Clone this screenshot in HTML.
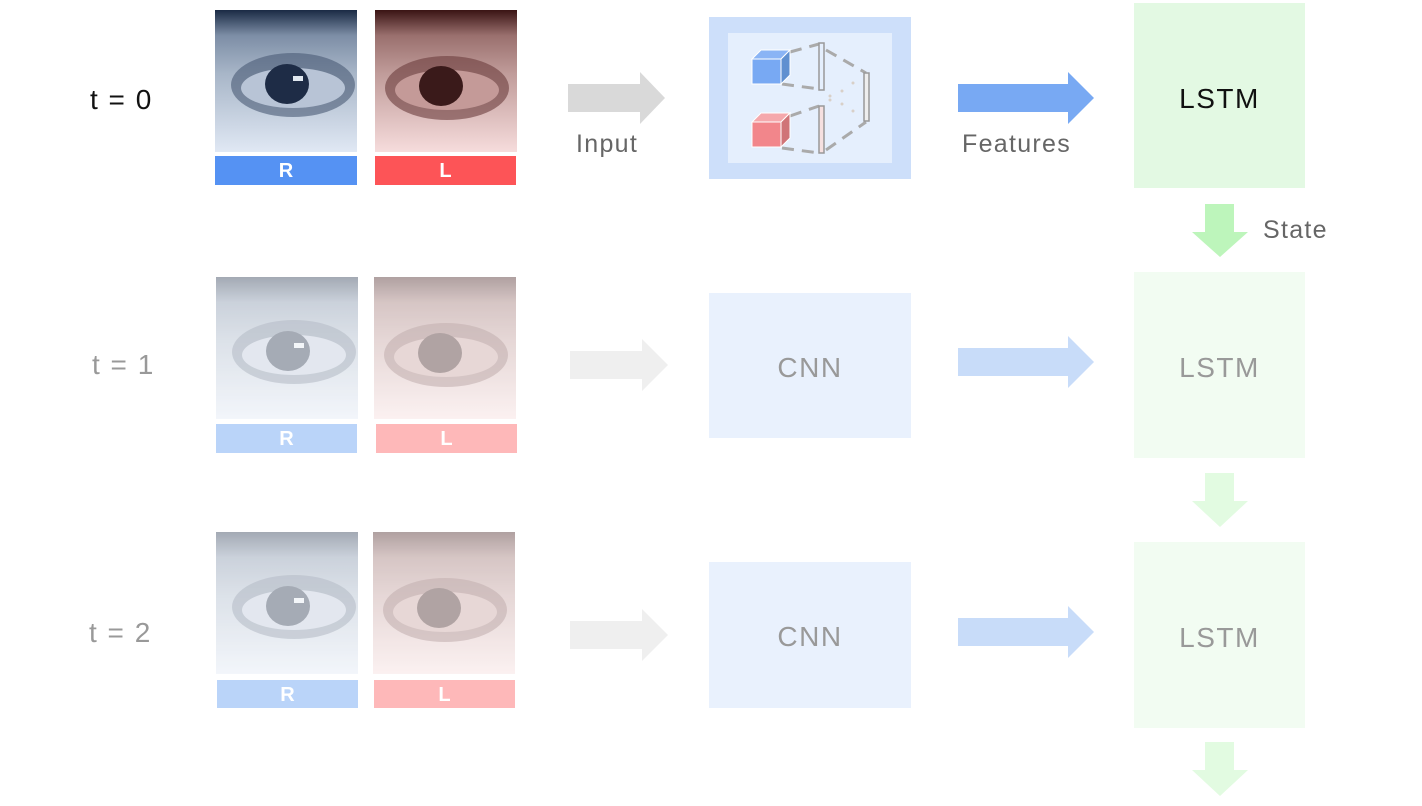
<!DOCTYPE html>
<html><head><style>
body{margin:0;width:1422px;height:806px;background:#fff;position:relative;overflow:hidden;font-family:"Liberation Sans",sans-serif}
.a{position:absolute}
.t{font-size:28px;color:#111;letter-spacing:1.5px}
.lb{font-size:25px;color:#666;letter-spacing:1.3px}
.bar{position:absolute;color:#fff;font-weight:bold;font-size:20px;text-align:center;line-height:31px}
.lstm{position:absolute;font-size:28px;text-align:center;letter-spacing:1.5px}
</style></head><body>
<svg class="a" style="left:0;top:0" width="1422" height="806">
<defs>
<linearGradient id="gb" x1="0" y1="0" x2="0" y2="1"><stop offset="0" stop-color="#1a2a44"/><stop offset=".18" stop-color="#7d8ea6"/><stop offset=".45" stop-color="#a8b6c8"/><stop offset="1" stop-color="#e0e8f4"/></linearGradient>
<linearGradient id="gr" x1="0" y1="0" x2="0" y2="1"><stop offset="0" stop-color="#3a1414"/><stop offset=".18" stop-color="#9a706e"/><stop offset=".45" stop-color="#c09c9a"/><stop offset="1" stop-color="#f6dcdc"/></linearGradient>
<g id="eyeB"><rect width="142" height="142" fill="url(#gb)"/><ellipse cx="78" cy="75" rx="62" ry="32" fill="#4a5a74" opacity=".6"/><ellipse cx="78" cy="78" rx="52" ry="20" fill="#b8c4d6"/><ellipse cx="72" cy="74" rx="22" ry="20" fill="#1e2c46"/><rect x="78" y="66" width="10" height="5" fill="#e0e8f0"/></g>
<g id="eyeR"><rect width="142" height="142" fill="url(#gr)"/><ellipse cx="72" cy="78" rx="62" ry="32" fill="#6a3c3c" opacity=".6"/><ellipse cx="72" cy="80" rx="52" ry="20" fill="#c49a98"/><ellipse cx="66" cy="76" rx="22" ry="20" fill="#3a1a1a"/></g>
</defs>
<use href="#eyeB" x="215" y="10"/><use href="#eyeR" x="375" y="10"/>
<g opacity=".5"><use href="#eyeB" x="216" y="277"/><use href="#eyeR" x="374" y="277"/><use href="#eyeB" x="216" y="532"/><use href="#eyeR" x="373" y="532"/></g>
<rect x="0" y="270" width="600" height="420" fill="#fff" opacity=".2"/>
<polygon points="568,84 640,84 640,72 665,98 640,124 640,112 568,112" fill="#d9d9d9"/>
<polygon points="570,351 642,351 642,339 668,365 642,391 642,379 570,379" fill="#efefef"/>
<polygon points="570,621 642,621 642,609 668,635 642,661 642,649 570,649" fill="#efefef"/>
<polygon points="958,84 1068,84 1068,72 1094,98 1068,124 1068,112 958,112" fill="#78a9f3"/>
<polygon points="958,348 1068,348 1068,336 1094,362 1068,388 1068,376 958,376" fill="#c8dcf9"/>
<polygon points="958,618 1068,618 1068,606 1094,632 1068,658 1068,646 958,646" fill="#c8dcf9"/>
<polygon points="1205,204 1234,204 1234,232 1248,232 1220,257 1192,232 1205,232" fill="#bdf5bb"/>
<polygon points="1205,473 1234,473 1234,501 1248,501 1220,527 1192,501 1205,501" fill="#e2fbe1"/>
<polygon points="1205,742 1234,742 1234,770 1248,770 1220,796 1192,770 1205,770" fill="#e2fbe1"/>
<rect x="709" y="17" width="202" height="162" fill="#cddffa"/>
<rect x="728" y="33" width="164" height="130" fill="#e5effd"/>
<g stroke="#aaa" stroke-width="3" fill="none" stroke-dasharray="12,8">
<path d="M790 52 L819 44 M782 84 L819 89 M790 116 L819 106 M782 148 L819 153 M826 50 L866 73 M826 150 L866 122"/>
</g>
<rect x="819" y="43" width="5" height="47" fill="#e5effd" stroke="#999" stroke-width="1.5"/>
<rect x="819" y="106" width="5" height="47" fill="#f6e0e0" stroke="#999" stroke-width="1.5"/>
<rect x="864" y="73" width="5" height="48" fill="#eee" stroke="#999" stroke-width="1.5"/>
<g fill="#d8d0c8"><circle cx="830" cy="96" r="1.5"/><circle cx="842" cy="91" r="1.5"/><circle cx="853" cy="83" r="1.5"/><circle cx="842" cy="104" r="1.5"/><circle cx="853" cy="111" r="1.5"/><circle cx="830" cy="100" r="1.5"/></g>
<polygon points="752,59 761,50 790,50 781,59" fill="#8ab4f5" stroke="#fff" stroke-width="1"/>
<polygon points="781,59 790,50 790,75 781,84" fill="#6090d0" stroke="#fff" stroke-width="1"/>
<rect x="752" y="59" width="29" height="25" fill="#78a9f3" stroke="#fff" stroke-width="1"/>
<polygon points="752,122 761,113 790,113 781,122" fill="#f5a8ac" stroke="#fff" stroke-width="1"/>
<polygon points="781,122 790,113 790,138 781,147" fill="#d07478" stroke="#fff" stroke-width="1"/>
<rect x="752" y="122" width="29" height="25" fill="#f2868b" stroke="#fff" stroke-width="1"/>
</svg>
<div class="bar" style="left:215px;top:156px;width:142px;height:29px;background:#5592f3">R</div>
<div class="bar" style="left:375px;top:156px;width:141px;height:29px;background:#fd5457">L</div>
<div class="bar" style="left:216px;top:424px;width:141px;height:29px;background:#bad4f9">R</div>
<div class="bar" style="left:376px;top:424px;width:141px;height:29px;background:#feb8b9">L</div>
<div class="bar" style="left:217px;top:680px;width:141px;height:28px;background:#bad4f9">R</div>
<div class="bar" style="left:374px;top:680px;width:141px;height:28px;background:#feb8b9">L</div>
<div class="a t" style="left:90px;top:84px">t = 0</div>
<div class="a t" style="left:92px;top:349px;color:#999">t = 1</div>
<div class="a t" style="left:89px;top:617px;color:#999">t = 2</div>
<div class="a lb" style="left:576px;top:130px">Input</div>
<div class="a lb" style="left:962px;top:130px">Features</div>
<div class="a lb" style="left:1263px;top:216px">State</div>
<div class="lstm" style="left:709px;top:293px;width:202px;height:145px;line-height:150px;background:#e9f1fd;color:#999">CNN</div>
<div class="lstm" style="left:709px;top:562px;width:202px;height:146px;line-height:150px;background:#e9f1fd;color:#999">CNN</div>
<div class="lstm" style="left:1134px;top:3px;width:171px;height:185px;line-height:192px;background:#e3f9e3;color:#111">LSTM</div>
<div class="lstm" style="left:1134px;top:272px;width:171px;height:186px;line-height:192px;background:#f2fcf2;color:#999">LSTM</div>
<div class="lstm" style="left:1134px;top:542px;width:171px;height:186px;line-height:192px;background:#f2fcf2;color:#999">LSTM</div>
</body></html>
